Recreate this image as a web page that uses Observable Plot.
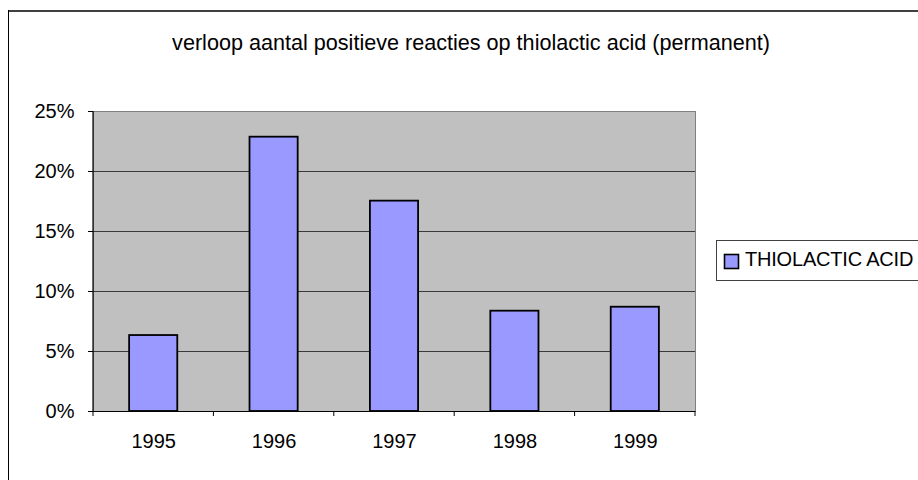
<!DOCTYPE html>
<html>
<head>
<meta charset="utf-8">
<script src="https://cdn.jsdelivr.net/npm/d3@7"></script>
<script src="https://cdn.jsdelivr.net/npm/@observablehq/plot@0.6"></script>
<style>
  html, body { margin: 0; padding: 0; background: #fff; }
  svg { display: block; }
</style>
</head>
<body>
<div id="chart"></div>
<script>
const title = "verloop aantal positieve reacties op thiolactic acid (permanent)";
const seriesName = "THIOLACTIC ACID";
const years = ["1995", "1996", "1997", "1998", "1999"];
const values = [0.0633, 0.2286, 0.1753, 0.0836, 0.0869];
const yTicks = [0, 0.05, 0.10, 0.15, 0.20, 0.25];
const gridValues = [0.05, 0.10, 0.15, 0.20];

const FONT = "'Liberation Sans', Arial, sans-serif";
const BAR = "#9999FF";
const data = years.map((y, i) => ({year: y, value: values[i]}));

const chart = Plot.plot({
  width: 918,
  height: 480,
  marginLeft: 93,
  marginRight: 223,
  marginTop: 111,
  marginBottom: 69,
  style: {fontFamily: FONT, fontSize: "20px", background: "white", color: "black", overflow: "visible"},
  x: {domain: years, paddingInner: 0.6, paddingOuter: 0.3, round: false, label: null},
  y: {domain: [0, 0.25], label: null},
  marks: [
    Plot.frame({fill: "#C0C0C0", stroke: "#808080", strokeWidth: 1}),
    Plot.ruleY(gridValues, {stroke: "#3a3a3a", strokeWidth: 1}),
    Plot.barY(data, {x: "year", y: "value", fill: BAR, stroke: "black", strokeWidth: 1.8}),
    Plot.ruleY([0], {stroke: "black", strokeWidth: 1.2}),
    Plot.axisY({ticks: yTicks, tickFormat: d3.format(".0%"), tickSize: 5, tickPadding: 14, fontSize: 20, stroke: "black", label: null}),
    Plot.axisX({tickSize: 0, tickPadding: 22, fontSize: 20, label: null})
  ]
});

document.getElementById("chart").appendChild(chart);

const svg = d3.select(chart);
const xs = chart.scale("x");
const ys = chart.scale("y");
const step = xs.apply(years[1]) - xs.apply(years[0]);
const bw = xs.bandwidth;
const left = xs.apply(years[0]) - (step - bw) / 2;
const yBottom = ys.apply(0);
const yTop = ys.apply(0.25);

// left axis line
svg.append("line")
  .attr("x1", left).attr("x2", left)
  .attr("y1", yTop).attr("y2", yBottom)
  .attr("stroke", "black").attr("stroke-width", 1.2);

// category boundary ticks
const bounds = years.map(y => xs.apply(y) - (step - bw) / 2);
bounds.push(xs.apply(years[years.length - 1]) + bw + (step - bw) / 2);
svg.append("g").selectAll("line").data(bounds).join("line")
  .attr("x1", d => d).attr("x2", d => d)
  .attr("y1", yBottom).attr("y2", yBottom + 5)
  .attr("stroke", "black").attr("stroke-width", 1);

// outer chart border (only top & left visible)
svg.append("line").attr("x1", 8).attr("x2", 930).attr("y1", 11).attr("y2", 11)
  .attr("stroke", "#404040").attr("stroke-width", 2);
svg.append("line").attr("x1", 8.5).attr("x2", 8.5).attr("y1", 10).attr("y2", 490)
  .attr("stroke", "black").attr("stroke-width", 1);

// title
svg.append("text")
  .attr("x", 471).attr("y", 49.5)
  .attr("text-anchor", "middle")
  .attr("font-family", FONT).attr("font-size", 21.6)
  .attr("fill", "black")
  .text(title);

// legend
const lg = svg.append("g");
lg.append("rect").attr("x", 716.5).attr("y", 240.5).attr("width", 230).attr("height", 40)
  .attr("fill", "white").attr("stroke", "#404040").attr("stroke-width", 1);
lg.append("rect").attr("x", 724.5).attr("y", 254.5).attr("width", 14).attr("height", 14)
  .attr("fill", BAR).attr("stroke", "black").attr("stroke-width", 1.6);
lg.append("text").attr("x", 745).attr("y", 266)
  .attr("text-anchor", "start")
  .attr("font-family", FONT).attr("font-size", 20).attr("letter-spacing", "-0.2")
  .attr("fill", "black").text(seriesName);
</script>
</body>
</html>
